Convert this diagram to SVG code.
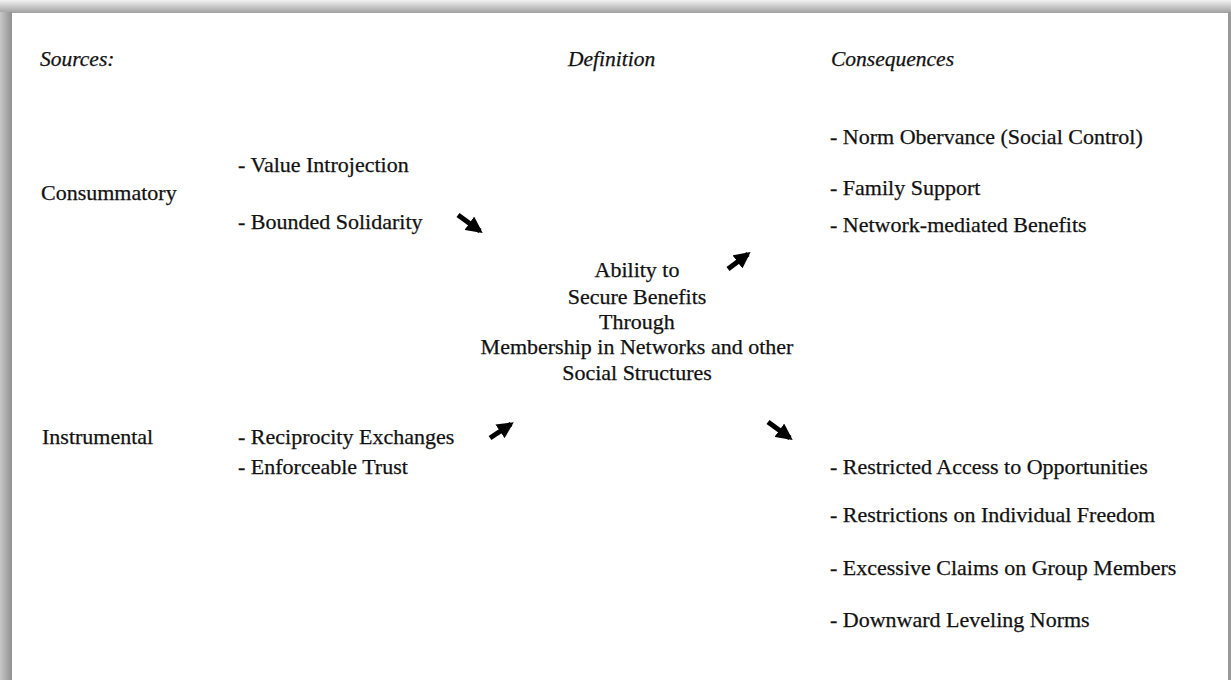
<svg xmlns="http://www.w3.org/2000/svg" width="1231" height="680" viewBox="0 0 1231 680">
<defs>
<linearGradient id="topG" x1="0" y1="0" x2="0" y2="1">
<stop offset="0" stop-color="#f2f2f2"/><stop offset="1" stop-color="#a0a0a0"/>
</linearGradient>
<linearGradient id="leftG" x1="0" y1="0" x2="1" y2="0">
<stop offset="0" stop-color="#c8c8c8"/><stop offset="1" stop-color="#909090"/>
</linearGradient>
<marker id="ah" viewBox="0 0 10 10" refX="8" refY="5" markerWidth="3.3" markerHeight="3.3" orient="auto" markerUnits="strokeWidth">
<path d="M0,0 L10,5 L0,10 z" fill="#000"/>
</marker>
<style>
text{font-family:"Liberation Serif","Times New Roman",serif;font-size:22px;fill:#111;stroke:#111;stroke-width:0.25}
.h{font-style:italic;font-size:21.5px}
.c{text-anchor:middle}
.arr{stroke:#000;stroke-width:5;fill:none;marker-end:url(#ah)}
</style>
</defs>
<rect width="1231" height="680" fill="#fff"/>
<rect x="0" y="0" width="1231" height="13" fill="url(#topG)"/>
<rect x="0" y="12" width="12" height="668" fill="url(#leftG)"/>
<rect x="1228" y="12" width="3" height="668" fill="#999"/>

<g id="headers">
<text class="h" x="40" y="66">Sources:</text>
<text class="h" x="568" y="66">Definition</text>
<text class="h" x="831" y="66">Consequences</text>
</g>
<g id="consummatory">
<text x="41" y="200">Consummatory</text>
<text x="238" y="172">- Value Introjection</text>
<text x="238" y="229">- Bounded Solidarity</text>
</g>
<g id="instrumental">
<text x="42" y="444">Instrumental</text>
<text x="238" y="444">- Reciprocity Exchanges</text>
<text x="238" y="474">- Enforceable Trust</text>
</g>
<g id="definition">
<text class="c" x="637" y="277">Ability to</text>
<text class="c" x="637" y="304">Secure Benefits</text>
<text class="c" x="637" y="329">Through</text>
<text class="c" x="637" y="354">Membership in Networks and other</text>
<text class="c" x="637" y="380">Social Structures</text>
</g>
<g id="positive">
<text x="830" y="144">- Norm Obervance (Social Control)</text>
<text x="830" y="195">- Family Support</text>
<text x="830" y="232">- Network-mediated Benefits</text>
</g>
<g id="negative">
<text x="830" y="474">- Restricted Access to Opportunities</text>
<text x="830" y="522">- Restrictions on Individual Freedom</text>
<text x="830" y="575">- Excessive Claims on Group Members</text>
<text x="830" y="627">- Downward Leveling Norms</text>
</g>
<g id="connectors">
<line class="arr" x1="458" y1="215" x2="480" y2="231"/>
<line class="arr" x1="728" y1="269" x2="748" y2="254"/>
<line class="arr" x1="490" y1="438" x2="511" y2="424"/>
<line class="arr" x1="768" y1="422" x2="790" y2="438"/>
</g>
</svg>
